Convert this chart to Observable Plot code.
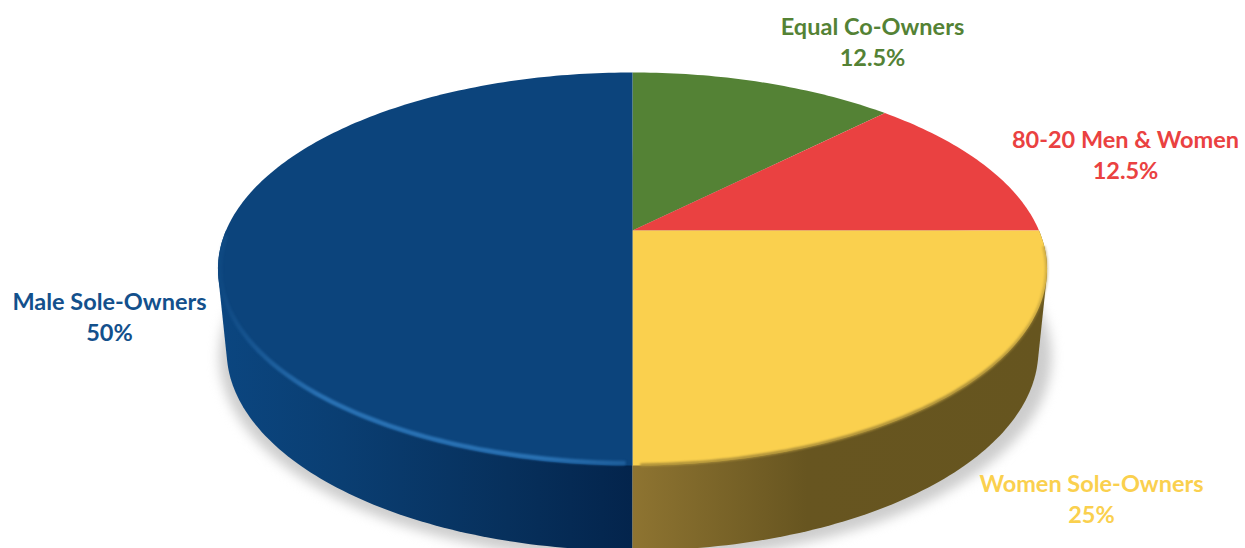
<!DOCTYPE html>
<html>
<head>
<meta charset="utf-8">
<style>
  html, body { margin: 0; padding: 0; background: #fff; }
  svg { display: block; }
</style>
<script src="https://cdn.jsdelivr.net/npm/d3@7"></script>
<script src="https://cdn.jsdelivr.net/npm/@observablehq/plot@0.6"></script>
</head>
<body>
<div id="chart"></div>
<script>
// Ownership shares, clockwise from twelve o'clock.
const categories = ["Equal Co-Owners", "80-20 Men & Women", "Women Sole-Owners", "Male Sole-Owners"];
const shares = [12.5, 12.5, 25, 50];
const shareLabels = ["12.5%", "12.5%", "25%", "50%"];
const colors = ["#548235", "#ea4141", "#fad04e", "#0c447c"];

// Where each two-line label sits on the canvas.
const labelX = [872, 1125, 1091, 109];
const labelY = [40, 153, 497, 315];

// Perspective of the tilted disc: the rim is a circle seen from the front.
const topDisc = {cx: 632, cy: 230, a: 406.5, b: 189, c: 0.196};
const baseDisc = {cx: 632, cy: 310.8, a: 398, b: 192.4, c: 0.196};
const shadowDisc = {cx: 635, cy: 316, a: 408, b: 196, c: 0.196};

function rim(disc, degrees) {
  const t = (degrees * Math.PI) / 180;
  const u = Math.sin(t), v = Math.cos(t);
  const w = 1 + disc.c * v;
  return [disc.cx + (disc.a * u) / w, disc.cy - (disc.b * v) / w];
}
const arc = (disc, from, to) =>
  d3.range(from, to, 1).concat(to).map((d) => rim(disc, d));

// Slice angles come from the cumulative shares.
const ends = d3.cumsum(shares).map((d) => (d / d3.sum(shares)) * 360);
const slices = categories.map((name, i) => ({
  name,
  color: colors[i],
  from: i ? ends[i - 1] : 0,
  to: ends[i]
}));

const ring = (points, key) => points.map(([x, y]) => ({x, y, key}));

// Flat wedges on the top face.
const faces = slices.flatMap((s) =>
  ring([[topDisc.cx, topDisc.cy], ...arc(topDisc, s.from, s.to)], s.name)
);

// Side wall of a slice: the hull of its top and base rims, with the face drawn over it.
const wall = (s, from, to) =>
  ring(d3.polygonHull([...arc(topDisc, from, to), ...arc(baseDisc, from, to)]), s.name);

const women = slices[2], men = slices[3];
const gold = wall(women, women.from, women.to);
const navy = wall(men, men.from, 270);
const shadow = ring(arc(shadowDisc, 0, 360), "shadow");

const gradient = (id, stops) => `<linearGradient id="${id}" x1="0" x2="1" y1="0" y2="0">` +
  stops.map(([o, c, a = 1]) => `<stop offset="${o}" stop-color="${c}" stop-opacity="${a}"/>`).join("") +
  `</linearGradient>`;

function defs() {
  const node = document.createElementNS("http://www.w3.org/2000/svg", "defs");
  node.innerHTML =
    gradient("navyWall", [[0, "#0b4680"], [0.3, "#0a3e72"], [0.7, "#07305c"], [1, "#03244c"]]) +
    gradient("goldWall", [[0, "#8e7431"], [0.42, "#675520"], [1, "#66551f"]]) +
    gradient("navySheen", [[0, "#2a72b4", 0.1], [0.25, "#2a72b4", 1], [0.8, "#2a72b4", 1], [1, "#1f5f9c", 1]]) +
    gradient("goldEdge", [[0, "#a88c38", 1], [0.85, "#a88c38", 1], [1, "#a88c38", 0.5]]);
  return node;
}

const labels = categories.map((name, i) => ({
  text: `${name}\n${shareLabels[i]}`,
  x: labelX[i],
  y: labelY[i],
  color: colors[i] === "#0c447c" ? "#13508c" : colors[i]
}));

const chart = Plot.plot({
  width: 1245,
  height: 548,
  margin: 0,
  style: {background: "#fff"},
  x: {domain: [0, 1245], range: [0, 1245], axis: null},
  y: {domain: [0, 548], range: [0, 548], axis: null},
  marks: [
    defs,
    Plot.line(shadow, {x: "x", y: "y", z: "key", fill: "#cdcdcd", stroke: "none", imageFilter: "blur(6px)"}),
    Plot.line(navy, {x: "x", y: "y", z: "key", fill: "url(#navyWall)", stroke: "none"}),
    Plot.line(gold, {x: "x", y: "y", z: "key", fill: "url(#goldWall)", stroke: "none"}),
    Plot.line(faces, {x: "x", y: "y", z: "key", fill: (d) => slices.find((s) => s.name === d.key).color, stroke: "none"}),
    Plot.line(ring(arc({...topDisc, a: topDisc.a - 2, b: topDisc.b - 2}, men.from + 1, 268), "sheen"), {
      x: "x", y: "y", stroke: "url(#navySheen)", strokeWidth: 4.5, imageFilter: "blur(1.3px)"
    }),
    Plot.line(ring(arc({...topDisc, a: topDisc.a - 0.5, b: topDisc.b - 0.5}, 95, women.to - 1), "edge"), {
      x: "x", y: "y", stroke: "url(#goldEdge)", strokeWidth: 3, imageFilter: "blur(1.2px)"
    }),
    Plot.text(labels, {
      x: "x",
      y: "y",
      text: "text",
      fill: "color",
      fontFamily: "Lato, 'Open Sans', sans-serif",
      fontWeight: 700,
      fontSize: 23.5,
      lineHeight: 1.32,
      textAnchor: "middle"
    })
  ]
});

document.getElementById("chart").append(chart);
</script>
</body>
</html>
